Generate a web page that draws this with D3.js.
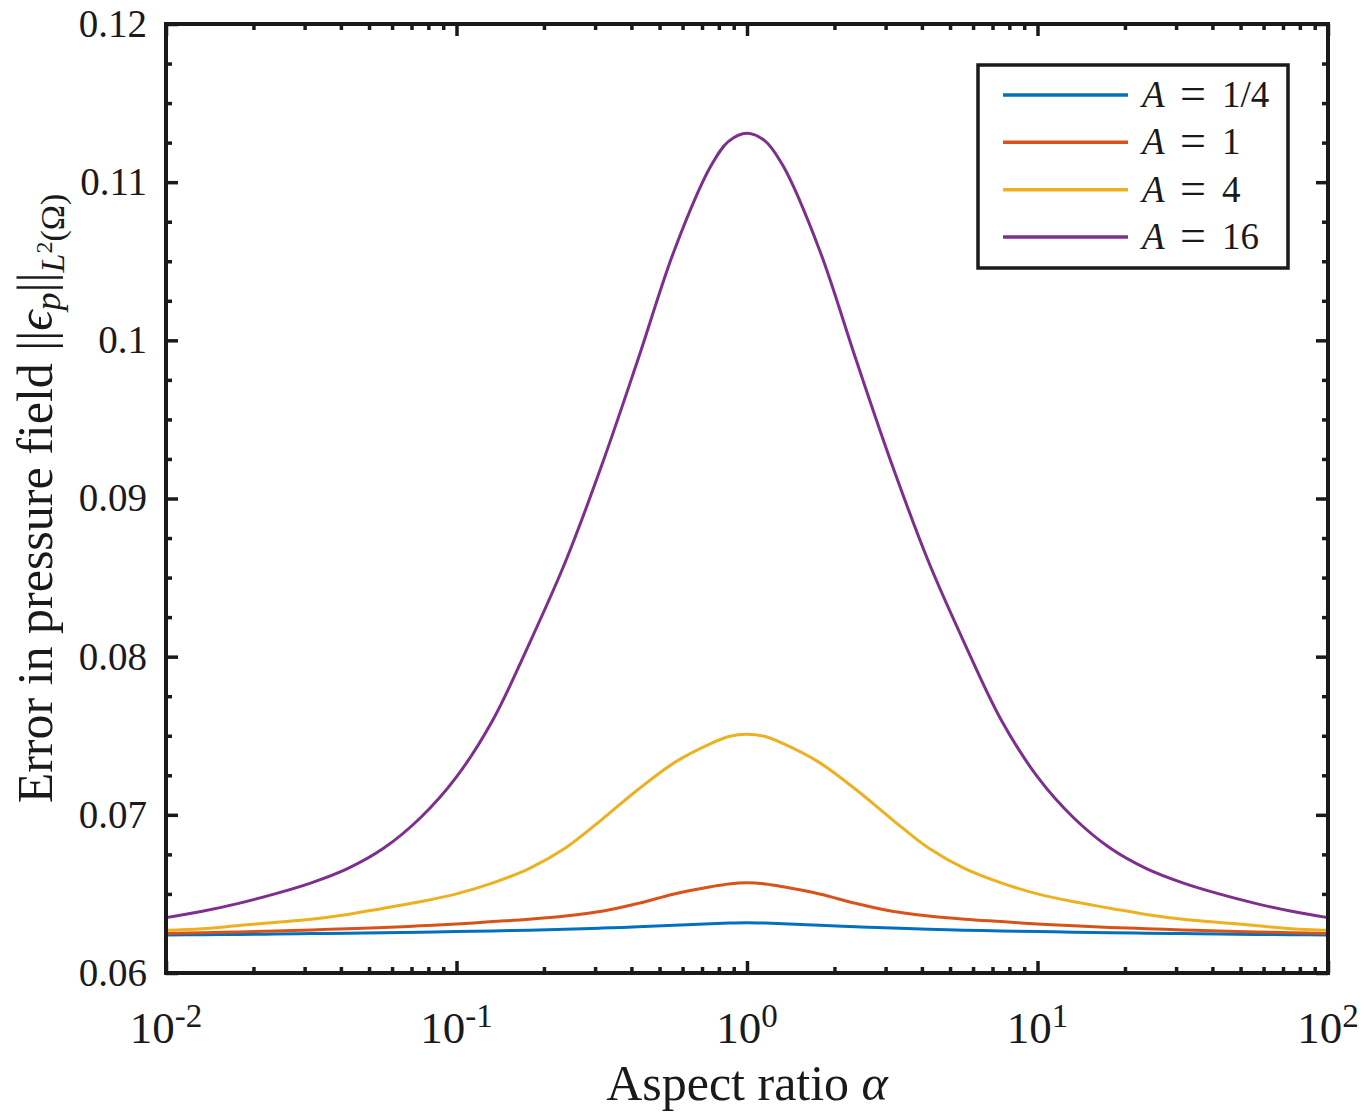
<!DOCTYPE html>
<html>
<head>
<meta charset="utf-8">
<script src="https://cdn.jsdelivr.net/npm/d3@7"></script>
<style>
  html, body { margin: 0; padding: 0; background: #fff; }
  svg { display: block; }
  text { font-family: "Liberation Serif", "DejaVu Serif", serif; fill: #1a1a1a; }
</style>
</head>
<body>
<svg id="chart" width="1371" height="1112"></svg>
<script>
// ---- data ----
// aspect ratio alpha, eighth-decade steps from 1e-2 to 1e2 (plus two points next to the peak)
const alphas = [0.01, 0.01334, 0.01778, 0.02371, 0.03162, 0.04217, 0.05623, 0.07499,
                0.1, 0.1334, 0.1778, 0.2371, 0.3162, 0.4217, 0.5623, 0.7499, 0.8660,
                1,
                1.1548, 1.334, 1.778, 2.371, 3.162, 4.217, 5.623, 7.499,
                10, 13.34, 17.78, 23.71, 31.62, 42.17, 56.23, 74.99, 100];
const seriesLabels = ["1/4", "1", "4", "16"];
const valuesA025 = [0.06240, 0.06242, 0.06244, 0.06246, 0.06249, 0.06252, 0.06255, 0.06258,
                    0.06262, 0.06266, 0.06271, 0.06277, 0.06284, 0.06292, 0.06302, 0.06312, 0.06316,
                    0.06318,
                    0.06316, 0.06312, 0.06302, 0.06292, 0.06284, 0.06277, 0.06271, 0.06266,
                    0.06262, 0.06258, 0.06255, 0.06252, 0.06249, 0.06246, 0.06244, 0.06242, 0.06240];
const valuesA1   = [0.06250, 0.06255, 0.06260, 0.06266, 0.06272, 0.06280, 0.06288, 0.06298,
                    0.06310, 0.06325, 0.06340, 0.06360, 0.06390, 0.06440, 0.06500, 0.06545, 0.06563,
                    0.06570,
                    0.06563, 0.06545, 0.06500, 0.06440, 0.06390, 0.06360, 0.06340, 0.06325,
                    0.06310, 0.06298, 0.06288, 0.06280, 0.06272, 0.06266, 0.06260, 0.06255, 0.06250];
const valuesA4   = [0.0627, 0.0628, 0.0630, 0.0632, 0.0634, 0.0637, 0.0641, 0.0645,
                    0.0650, 0.0657, 0.0666, 0.0679, 0.0697, 0.0716, 0.0733, 0.0745, 0.07495,
                    0.0751,
                    0.07495, 0.0745, 0.0733, 0.0716, 0.0697, 0.0679, 0.0666, 0.0657,
                    0.0650, 0.0645, 0.0641, 0.0637, 0.0634, 0.0632, 0.0630, 0.0628, 0.0627];
const valuesA16  = [0.0635, 0.0639, 0.0644, 0.0650, 0.0657, 0.0666, 0.0679, 0.0698,
                    0.0724, 0.0760, 0.0808, 0.0860, 0.0921, 0.0988, 0.1057, 0.1110, 0.1126,
                    0.1131,
                    0.1126, 0.1110, 0.1057, 0.0988, 0.0921, 0.0860, 0.0808, 0.0760,
                    0.0724, 0.0698, 0.0679, 0.0666, 0.0657, 0.0650, 0.0644, 0.0639, 0.0635];
const xTickExponents = [-2, -1, 0, 1, 2];
const yTicks = [0.06, 0.07, 0.08, 0.09, 0.1, 0.11, 0.12];
const colors = ["#0072BD", "#D95319", "#EDB120", "#7E2F8E"];

const allSeries = [valuesA025, valuesA1, valuesA4, valuesA16];

// ---- layout ----
const L = 166, R = 1328, T = 24, B = 973;
const svg = d3.select("#chart");

const x = d3.scaleLog().domain([1e-2, 1e2]).range([L, R]);
const y = d3.scaleLinear().domain([0.06, 0.12]).range([B, T]);

const majorX = xTickExponents.map(e => Math.pow(10, e));
const minorX = [];
for (let e = -2; e < 2; e++) for (let m = 2; m <= 9; m++) minorX.push(m * Math.pow(10, e));
const minorY = d3.range(0.0625, 0.12, 0.0025).filter(v => Math.abs(v * 100 - Math.round(v * 100)) > 1e-6);

const tickW = 3.5;
function styleAxis(g) {
  g.select(".domain").remove();
  g.selectAll(".tick line").attr("stroke", "#1a1a1a").attr("stroke-width", tickW);
}

// major + minor ticks, inward, on all four sides
svg.append("g").attr("transform", `translate(0,${B})`)
  .call(d3.axisBottom(x).tickValues(majorX).tickSizeInner(-12).tickSizeOuter(0).tickFormat(""))
  .call(styleAxis);
svg.append("g").attr("transform", `translate(0,${B})`)
  .call(d3.axisBottom(x).tickValues(minorX).tickSizeInner(-6).tickSizeOuter(0).tickFormat(""))
  .call(styleAxis);
svg.append("g").attr("transform", `translate(0,${T})`)
  .call(d3.axisTop(x).tickValues(majorX).tickSizeInner(-12).tickSizeOuter(0).tickFormat(""))
  .call(styleAxis);
svg.append("g").attr("transform", `translate(0,${T})`)
  .call(d3.axisTop(x).tickValues(minorX).tickSizeInner(-6).tickSizeOuter(0).tickFormat(""))
  .call(styleAxis);

const yAxisG = svg.append("g").attr("transform", `translate(${L},0)`)
  .call(d3.axisLeft(y).tickValues(yTicks).tickSizeInner(-12).tickSizeOuter(0).tickPadding(19)
        .tickFormat(d => String(+d.toFixed(2))))
  .call(styleAxis);
yAxisG.selectAll(".tick text").attr("font-size", 39)
  .style("font-family", '"Liberation Serif", serif').attr("fill", "#1a1a1a");
svg.append("g").attr("transform", `translate(${L},0)`)
  .call(d3.axisLeft(y).tickValues(minorY).tickSizeInner(-6).tickSizeOuter(0).tickFormat(""))
  .call(styleAxis);
svg.append("g").attr("transform", `translate(${R},0)`)
  .call(d3.axisRight(y).tickValues(yTicks).tickSizeInner(-12).tickSizeOuter(0).tickFormat(""))
  .call(styleAxis);
svg.append("g").attr("transform", `translate(${R},0)`)
  .call(d3.axisRight(y).tickValues(minorY).tickSizeInner(-6).tickSizeOuter(0).tickFormat(""))
  .call(styleAxis);

// x tick labels 10^e
const xl = svg.append("g");
xTickExponents.forEach(e => {
  const t = xl.append("text")
    .attr("x", x(Math.pow(10, e)))
    .attr("y", 1043)
    .attr("text-anchor", "middle")
    .attr("font-size", 45);
  t.append("tspan").text("10");
  t.append("tspan").attr("font-size", 33).attr("dy", -16).text(String(e));
});

// lines
const line = d3.line()
  .x((d, i) => x(alphas[i]))
  .y(d => y(d))
  .curve(d3.curveCatmullRom.alpha(0.5));

svg.append("g").selectAll("path")
  .data(allSeries)
  .join("path")
  .attr("d", d => line(d))
  .attr("fill", "none")
  .attr("stroke", (d, i) => colors[i])
  .attr("stroke-width", 3)
  .attr("stroke-linejoin", "round");

// frame
svg.append("rect")
  .attr("x", L).attr("y", T).attr("width", R - L).attr("height", B - T)
  .attr("fill", "none").attr("stroke", "#1a1a1a").attr("stroke-width", 4);

// axis labels
const xlab = svg.append("text")
  .attr("x", (L + R) / 2).attr("y", 1100)
  .attr("text-anchor", "middle").attr("font-size", 50);
xlab.append("tspan").text("Aspect ratio ");
xlab.append("tspan").attr("font-style", "italic").text("α");

const ylab = svg.append("text")
  .attr("transform", `translate(52,${(T + B) / 2}) rotate(-90)`)
  .attr("text-anchor", "middle").attr("font-size", 50);
ylab.append("tspan").text("Error in pressure field ||");
ylab.append("tspan").attr("font-style", "italic").text("ϵ");
ylab.append("tspan").attr("font-style", "italic").attr("font-size", 36).attr("dy", 8).text("p");
ylab.append("tspan").attr("dy", -8).text("||");
ylab.append("tspan").attr("font-style", "italic").attr("font-size", 34).attr("dy", 12).text("L");
ylab.append("tspan").attr("font-size", 24).attr("dy", -12).text("2");
ylab.append("tspan").attr("font-size", 34).attr("dy", 12).text("(Ω)");

// legend
const lg = svg.append("g");
lg.append("rect").attr("x", 978).attr("y", 65).attr("width", 310).attr("height", 203)
  .attr("fill", "#fff").attr("stroke", "#1a1a1a").attr("stroke-width", 3.5);
const legendY = d3.scalePoint().domain(seriesLabels).range([95, 237]);
seriesLabels.forEach((lab, i) => {
  const yy = legendY(lab);
  lg.append("line").attr("x1", 1003).attr("x2", 1128).attr("y1", yy).attr("y2", yy)
    .attr("stroke", colors[i]).attr("stroke-width", 3.5);
  const t = lg.append("text").attr("y", yy + 12).attr("font-size", 37);
  t.append("tspan").attr("x", 1142).attr("font-style", "italic").text("A");
  t.append("tspan").attr("x", 1180).attr("font-size", 46).attr("dy", 2).text("=");
  t.append("tspan").attr("x", 1222).attr("dy", -2).text(lab);
});
</script>
</body>
</html>
